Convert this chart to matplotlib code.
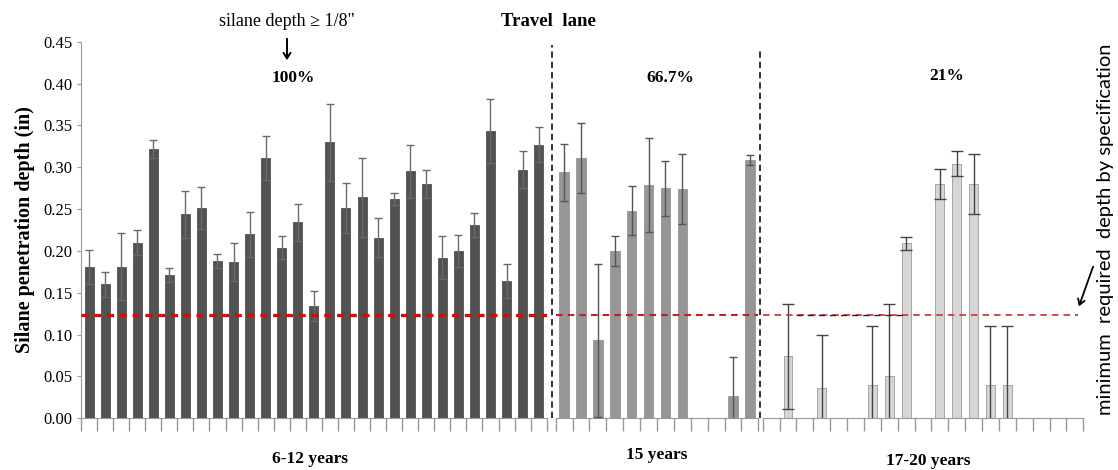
"""Silane penetration depth per core, grouped by deck age (travel lane)."""
import matplotlib
matplotlib.use("Agg")
import matplotlib.pyplot as plt
import numpy as np

plt.rcParams["font.family"] = ["Liberation Serif", "DejaVu Serif"]

# data (inches)
g1_vals = [0.181, 0.160, 0.181, 0.210, 0.322, 0.171, 0.244, 0.251, 0.188, 0.187,
           0.220, 0.311, 0.204, 0.234, 0.134, 0.330, 0.251, 0.264, 0.216, 0.262,
           0.295, 0.280, 0.192, 0.200, 0.231, 0.343, 0.164, 0.297, 0.327]
g1_err = [0.020, 0.015, 0.040, 0.015, 0.011, 0.008, 0.028, 0.025, 0.008, 0.023,
          0.027, 0.026, 0.014, 0.022, 0.018, 0.046, 0.030, 0.047, 0.023, 0.007,
          0.032, 0.017, 0.026, 0.019, 0.014, 0.038, 0.020, 0.022, 0.021]

g2_vals = [0.294, 0.311, 0.093, 0.200, 0.248, 0.279, 0.275, 0.274, 0.0, 0.0, 0.027, 0.309]
g2_err = [0.034, 0.042, 0.091, 0.018, 0.029, 0.056, 0.033, 0.042, 0.0, 0.0, 0.046, 0.006]

g3_vals = [0.0, 0.074, 0.0, 0.036, 0.0, 0.0, 0.040, 0.051, 0.209, 0.0,
           0.280, 0.304, 0.280, 0.040, 0.040, 0.0, 0.0, 0.0, 0.0]
g3_err = [0.0, 0.063, 0.0, 0.064, 0.0, 0.0, 0.070, 0.085, 0.008, 0.0,
          0.018, 0.015, 0.036, 0.070, 0.070, 0.0, 0.0, 0.0, 0.0]

group_names = ["6-12 years", "15 years", "17-20 years"]
pass_rates = ["100%", "66.7%", "21%"]
min_depth = 0.123  # 1/8 in spec line as drawn

W, H = 1118, 470
fig = plt.figure(figsize=(W / 100, H / 100), dpi=100)


def px_rect(x0, x1, top=41.7, bottom=418.3):
    return [x0 / W, (H - bottom) / H, (x1 - x0) / W, (bottom - top) / H]


ax1 = fig.add_axes(px_rect(81, 546.7))
ax2 = fig.add_axes(px_rect(555.7, 758.3))
ax3 = fig.add_axes(px_rect(762.7, 1083.3))

groups = [
    (ax1, g1_vals, g1_err, "#525252", 0.56, "#6a6a6a", 3),
    (ax2, g2_vals, g2_err, "#969696", 0.57, "#555555", 3),
    (ax3, g3_vals, g3_err, "#d6d6d6", 0.52, "#444444", 4),
]

for ax, vals, errs, color, width, ecol, cap in groups:
    vals = np.asarray(vals)
    errs = np.asarray(errs)
    x = np.arange(len(vals))
    ax.bar(x, vals, width=width, color=color,
           edgecolor="#9a9a9a" if ax is ax3 else color, linewidth=0.6, zorder=2)
    m = errs > 0
    ax.errorbar(x[m], vals[m], yerr=errs[m], fmt="none", ecolor=ecol,
                elinewidth=1.0, capsize=cap, capthick=1.0, zorder=3)
    ax.set_xlim(-0.5, len(vals) - 0.5)
    ax.set_ylim(0, 0.45)
    ax.set_xticks(np.arange(len(vals) + 1) - 0.5)
    ax.set_xticklabels([])
    ax.tick_params(axis="x", direction="out", length=9, width=1, color="#999999")
    for s in ["top", "right"]:
        ax.spines[s].set_visible(False)
    ax.spines["bottom"].set_color("#999999")
    ax.patch.set_alpha(0)

for ax in (ax2, ax3):
    ax.spines["left"].set_visible(False)
    ax.set_yticks([])

ax1.set_yticks(np.arange(0, 0.451, 0.05))
ax1.set_yticklabels([f"{v:.2f}" for v in np.arange(0, 0.451, 0.05)], fontsize=12)
ax1.tick_params(axis="y", direction="out", length=3, color="#999999", pad=3)
ax1.spines["left"].set_color("#999999")
ax1.set_ylabel("Silane penetration depth (in)", fontsize=14.5, fontweight="bold",
               labelpad=6)

# spec line 1/8"
ax1.axhline(min_depth, color="#c80f0f", lw=2.3, ls=(0, (2.2, 1.8)), zorder=4)
ax2.axhline(min_depth, color="#c41e1e", lw=1.5, ls=(0, (3.2, 2.4)), zorder=4)
ax3.axhline(min_depth, xmax=0.985, color="#d23c3c", lw=1.3, ls=(0, (3.6, 2.8)), zorder=4)
ax3.hlines(min_depth + 0.001, 1.5, 8.0, color="#222222", lw=1.0,
           ls=(0, (4.5, 3.5)), zorder=4)

# group separators
ax1.vlines(len(g1_vals) - 0.5 + 0.33, 0, 0.446, color="#222222", lw=1.3,
           ls=(0, (3.5, 2.2)), clip_on=False)
ax2.vlines(len(g2_vals) - 0.5 + 0.1, 0, 0.441, color="#222222", lw=1.3,
           ls=(0, (3.5, 2.2)), clip_on=False)


def ftext(xp, yp, s, **kw):
    fig.text(xp / W, 1 - yp / H, s, ha="center", va="center", **kw)


ftext(287, 22, "silane depth \u2265 1/8\"", fontsize=13)
fig.add_artist(matplotlib.patches.FancyArrowPatch(
    (287 / W, 1 - 36 / H), (287 / W, 1 - 63 / H), transform=fig.transFigure,
    arrowstyle="->,head_length=4,head_width=2.5", lw=1.4, color="black"))
ftext(548, 22, "Travel  lane", fontsize=13.5, fontweight="bold")
for xp, yp, s in zip([293, 670, 947], [78, 78, 76], pass_rates):
    ftext(xp, yp, s, fontsize=12.5, fontweight="bold")
for xp, yp, s in zip([310, 657, 928], [459, 455, 461], group_names):
    ftext(xp, yp, s, fontsize=12.5, fontweight="bold")

ftext(1106, 229, "minimum  required  depth by specification", rotation=90,
      fontsize=14.5, family=["Lato", "DejaVu Sans"])
fig.add_artist(matplotlib.patches.FancyArrowPatch(
    (1094 / W, 1 - 264 / H), (1078 / W, 1 - 309 / H), transform=fig.transFigure,
    arrowstyle="->,head_length=4,head_width=2.5", lw=1.3, color="black"))

fig.savefig("out.png", dpi=100)
